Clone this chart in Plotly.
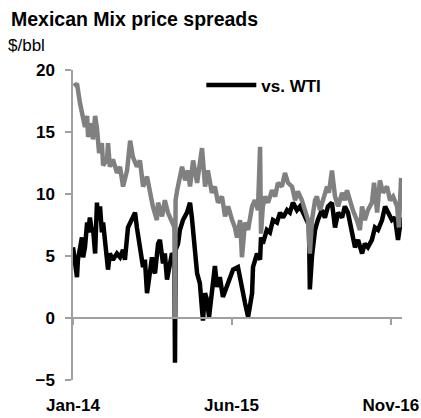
import pandas as pd
import plotly.graph_objects as go

# ---- data (days since 2014-01-01, $/bbl) ----
wti_days = [0, 7, 13, 16, 29, 33, 39, 46, 49, 55, 62, 65, 72, 78, 81, 88, 94, 98, 111, 114,
            120, 130, 143, 153, 163, 169, 179, 192, 202, 208, 218, 228, 234, 241, 244, 251, 257, 260, 267, 277,
            283, 293, 299, 306, 316, 322, 330, 332, 334, 342, 348, 358, 371, 381, 387, 391, 397, 404, 413, 420,
            423, 430, 436, 443, 452, 456, 462, 469, 478, 488, 501, 511, 521, 537, 550, 560, 570, 583, 586, 599,
            609, 612, 618, 631, 641, 651, 664, 674, 684, 697, 706, 716, 729, 739, 749, 762, 768, 771, 778, 788,
            797, 810, 820, 830, 843, 853, 863, 876, 885, 895, 908, 918, 928, 941, 950, 960, 973, 983, 993, 1006,
            1016, 1025, 1038, 1048, 1058, 1064, 1071]
wti_vals = [5.7, 4.4, 3.3, 4.7, 6.5, 4.9, 5.7, 7.7, 6.9, 8.1, 6.9, 7.3, 5.2, 9.3, 7.9, 9.0, 6.9, 7.7, 4.9, 3.9,
            5.2, 4.7, 5.2, 4.9, 5.5, 4.7, 7.3, 8.1, 8.5, 7.3, 5.7, 4.1, 4.7, 2.0, 2.5, 4.0, 4.9, 4.0, 3.6, 6.0,
            6.3, 4.4, 5.2, 3.1, 4.7, 5.2, 5.0, -3.6, 5.5, 6.0, 7.1, 7.9, 8.5, 9.3, 8.1, 7.1, 5.2, 3.6, 2.8, 0.9,
            -0.2, 2.0, 1.5, 0.1, 2.5, 3.3, 4.2, 2.5, 3.3, 1.7, 2.5, 3.2, 3.9, 4.1, 2.3, 1.2, 0.1, 2.0, 4.1, 5.2,
            4.7, 6.5, 6.0, 7.1, 6.9, 7.9, 7.7, 8.5, 8.1, 8.7, 8.5, 9.3, 8.7, 9.0, 8.5, 7.9, 7.5, 2.3, 5.0, 7.1,
            7.9, 8.7, 8.1, 9.0, 9.3, 7.3, 8.5, 8.1, 9.0, 8.5, 7.1, 5.7, 6.3, 5.2, 6.0, 5.7, 6.3, 7.3, 7.1, 7.9,
            9.0, 8.5, 7.9, 8.1, 6.3, 7.3, 8.1]

brent_days = [3, 13, 23, 29, 39, 46, 49, 62, 65, 72, 78, 85, 94, 98, 111, 114, 120, 130, 143, 153,
              163, 176, 186, 195, 208, 218, 228, 241, 251, 260, 273, 277, 290, 299, 309, 322, 330, 332, 334, 339,
              348, 355, 365, 374, 381, 391, 404, 413, 420, 430, 439, 452, 462, 472, 485, 495, 505, 518, 527, 534,
              544, 550, 560, 570, 583, 592, 602, 609, 612, 618, 625, 635, 648, 658, 667, 680, 690, 700, 713, 723,
              732, 745, 755, 765, 771, 778, 788, 794, 804, 814, 827, 833, 843, 853, 863, 876, 885, 892, 902, 911,
              924, 934, 941, 950, 960, 973, 980, 990, 999, 1009, 1022, 1032, 1042, 1055, 1061, 1068]
brent_vals = [18.7, 18.9, 17.3, 16.5, 15.4, 16.3, 14.6, 15.7, 14.4, 16.3, 15.3, 13.3, 14.1, 12.3, 12.8, 14.1, 12.2, 12.8, 11.7, 12.2,
              10.6, 11.9, 14.3, 13.0, 12.2, 12.7, 10.6, 11.4, 10.0, 9.0, 7.9, 9.3, 8.2, 9.5, 8.5, 7.7, 7.3, 0.0, 9.5, 10.3,
              11.4, 12.2, 11.1, 11.9, 10.6, 12.7, 10.9, 12.2, 13.7, 10.6, 11.9, 10.1, 10.6, 9.3, 9.8, 8.2, 9.0, 7.9, 7.3, 6.5,
              7.9, 4.9, 7.7, 7.1, 9.0, 9.5, 8.7, 13.8, 6.8, 9.0, 9.8, 9.3, 10.3, 9.8, 10.9, 10.6, 11.7, 10.9, 10.6, 9.5,
              10.2, 9.5, 8.7, 7.9, 5.2, 7.9, 9.5, 9.8, 8.7, 9.5, 10.6, 10.1, 11.9, 9.8, 9.0, 10.1, 9.5, 10.3, 9.3, 8.7,
              7.9, 7.1, 9.0, 7.9, 8.7, 9.3, 10.9, 8.5, 11.1, 10.1, 10.6, 9.5, 9.8, 9.0, 7.3, 11.3]

x_tick_dates = ["2014-01-01", "2015-06-01", "2016-11-01"]
x_tick_text = ["Jan-14", "Jun-15", "Nov-16"]
y_ticks = [-5, 0, 5, 10, 15, 20]
x_range = ["2014-01-01", "2016-12-07"]

base = pd.Timestamp("2014-01-01")
wti_x = [base + pd.Timedelta(days=d) for d in wti_days]
brent_x = [base + pd.Timedelta(days=d) for d in brent_days]

FONT = "Liberation Sans, Arial, sans-serif"
AXC = "#a0a0a0"

fig = go.Figure()
fig.add_trace(go.Scatter(x=wti_x, y=wti_vals, mode="lines", name="vs. WTI",
                         line=dict(color="#000000", width=4.5), xaxis="x", yaxis="y"))
fig.add_trace(go.Scatter(x=brent_x, y=brent_vals, mode="lines", name="vs. Brent",
                         line=dict(color="#808080", width=4.5), showlegend=False,
                         xaxis="x2", yaxis="y"))

fig.update_layout(
    width=421, height=418,
    margin=dict(l=73, r=19, t=70, b=38, autoexpand=False),
    paper_bgcolor="white", plot_bgcolor="white",
    font=dict(family=FONT, size=17, color="black"),
    xaxis=dict(type="date", range=x_range, tickvals=x_tick_dates, ticktext=x_tick_text,
               showline=False, showgrid=False, zeroline=False, ticks="", automargin=False,
               tickfont=dict(family=FONT, size=17, color="black", weight="bold"),
               ticklabelstandoff=13),
    xaxis2=dict(type="date", range=x_range, matches="x", overlaying="x", anchor="free", position=0.2,
                tickvals=x_tick_dates, showticklabels=False, showgrid=False, zeroline=False,
                showline=True, linecolor=AXC, linewidth=1.5, automargin=False,
                ticks="outside", ticklen=6, tickcolor=AXC, tickwidth=1.5, layer="above traces"),
    yaxis=dict(range=[-5, 20], tickvals=y_ticks, showgrid=False, automargin=False,
               zeroline=True, zerolinecolor=AXC, zerolinewidth=1.5,
               showline=True, linecolor=AXC, linewidth=1.5,
               ticks="outside", ticklen=6, tickcolor=AXC, tickwidth=1.5,
               tickfont=dict(family=FONT, size=17, color="black", weight="bold"),
               ticklabelstandoff=7),
    showlegend=True,
    legend=dict(x=0.39, y=0.95, xanchor="left", yanchor="middle", bgcolor="rgba(0,0,0,0)",
                font=dict(family=FONT, size=17, color="black", weight="bold"),
                itemwidth=50),
    annotations=[
        dict(text="<b>Mexican Mix price spreads</b>", xref="paper", yref="paper",
             x=-0.1945, y=1.1645, xanchor="left", yanchor="middle", showarrow=False,
             font=dict(family=FONT, size=19.5, color="black")),
        dict(text="$/bbl", xref="paper", yref="paper",
             x=-0.2037, y=1.0806, xanchor="left", yanchor="middle", showarrow=False,
             font=dict(family=FONT, size=17, color="black")),
    ],
)

fig.write_html("out.html", config={"displayModeBar": False},
               post_script="document.body.style.margin='0';document.body.style.overflow='hidden';")
